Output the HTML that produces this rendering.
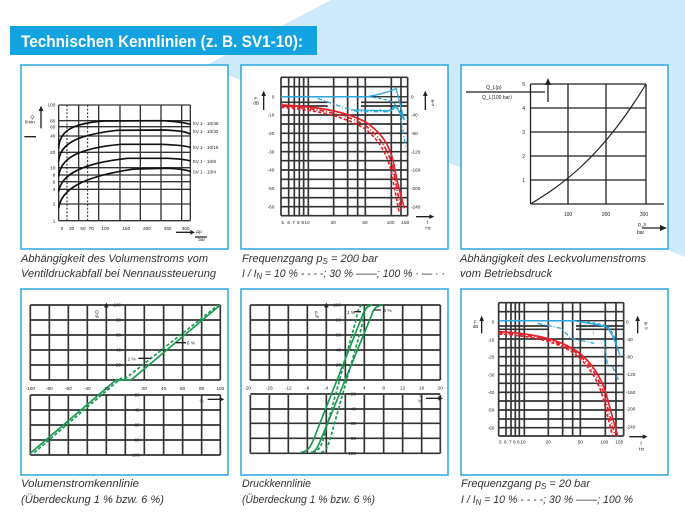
<!DOCTYPE html>
<html><head><meta charset="utf-8"><style>
html,body{margin:0;padding:0;background:#fff}
svg{display:block}
text{font-family:"Liberation Sans",sans-serif}
.cap{font-size:11px;font-style:italic;fill:#333}
</style></head><body>
<svg width="685" height="517" viewBox="0 0 685 517" xmlns="http://www.w3.org/2000/svg">
<rect width="685" height="517" fill="#fff"/>
<polygon points="331,0 685,0 685,257 205,66" fill="#cfeafa"/>
<rect x="10" y="26" width="307" height="29" fill="#12a3e0"/>
<text x="21" y="47" font-size="17" font-weight="bold" fill="#fff" textLength="282" lengthAdjust="spacingAndGlyphs">Technischen Kennlinien (z. B. SV1-10):</text>

<g fill="#fff" stroke="#29a8e0" stroke-width="1.5">
<rect x="21" y="65" width="207" height="184"/><rect x="241" y="65" width="207" height="184"/><rect x="461" y="65" width="207" height="184"/>
<rect x="21" y="289" width="207" height="186"/><rect x="241" y="289" width="207" height="186"/><rect x="461" y="289" width="207" height="186"/>
</g>

<!-- Panel 1 -->
<g transform="translate(21,95) scale(0.3333)">
<g stroke="#333" stroke-width="4">
<path d="M113,30V377M173,30V377M233,30V377M297,30V377M358,30V377M420,30V377M482,30V377M508,30V377"/>
<path d="M113,30H508M113,77H508M113,95H508M113,123H508M113,172H508M113,218H508M113,240H508M113,260H508M113,283H508M113,327H508M113,377H508"/>
</g>
<path d="M138,30V377M200,30V377" stroke="#222" stroke-width="3" stroke-dasharray="6,5"/>
<g stroke="#111" stroke-width="5" fill="none">
<path d="M113,160 C115,110 150,85 250,78 L420,77 C460,79 490,82 508,88"/>
<path d="M113,200 C116,150 160,120 290,106 L420,105 C470,106 500,110 508,118"/>
<path d="M113,245 C118,190 170,160 300,148 L420,148 C470,150 500,153 508,158"/>
<path d="M113,290 C120,240 180,205 320,190 L440,190 C480,192 500,195 508,198"/>
<path d="M113,340 C120,285 180,245 340,222 L440,220 C480,222 500,225 508,230"/>
</g>
<g font-size="14" fill="#222" text-anchor="end">
<text x="103" y="35">100</text><text x="103" y="82">80</text><text x="103" y="100">60</text><text x="103" y="128">40</text><text x="103" y="177">20</text><text x="103" y="223">10</text><text x="103" y="245">8</text><text x="103" y="265">6</text><text x="103" y="288">4</text><text x="103" y="332">2</text><text x="103" y="382">1</text>
</g>
<g font-size="14" fill="#222" text-anchor="middle">
<text x="123" y="405">0</text><text x="152" y="405">20</text><text x="186" y="405">50</text><text x="211" y="405">70</text><text x="253" y="405">100</text><text x="316" y="405">150</text><text x="378" y="405">200</text><text x="440" y="405">250</text><text x="494" y="405">300</text>
</g>
<g font-size="14" fill="#222">
<text x="515" y="90">SV 1 - 10/48</text><text x="515" y="114">SV 1 - 10/32</text><text x="515" y="162">SV 1 - 10/16</text><text x="515" y="204">SV 1 - 10/8</text><text x="515" y="236">SV 1 - 10/4</text>
<text x="28" y="70">Q</text><text x="12" y="86">l/min</text><text x="525" y="414">Δp</text><text x="532" y="438">bar</text>
</g>
<path d="M60,100V40" stroke="#222" stroke-width="4"/><path d="M53,48L60,32L67,48Z" fill="#222"/>
<path d="M10,125H45M522,426H558" stroke="#222" stroke-width="4"/>
<path d="M465,412H515" stroke="#222" stroke-width="4"/><path d="M508,405L522,412L508,419Z" fill="#222"/>
</g>

<!-- Panel 2 -->
<g transform="translate(241,70) scale(0.3333)">
<g stroke="#333" stroke-width="5">
<path d="M120,22V437M143,22V437M160,22V437M175,22V437M188,22V437M202,22V437M278,22V437M320,22V437M350,22V437M373,22V437M451,22V437M480,22V437M500,22V437"/>
<path d="M120,22H500M120,50H500M120,135H500M120,162H500M120,190H500M120,218H500M120,245H500M120,272H500M120,300H500M120,328H500M120,355H500M120,383H500M120,410H500M120,437H500"/>
<path d="M120,97H260M360,97H500M120,108H260M360,108H500"/>
</g>
<path d="M120,80H500" stroke="#333" stroke-width="4"/>
<g fill="none" stroke-width="4" stroke="#29a8e0">
<path d="M120,80 L380,80 C420,72 450,65 465,55 L490,150"/>
<path d="M380,80 C420,85 445,90 460,100 L480,130" stroke-dasharray="10,6"/>
<path d="M230,85 L300,110 L350,125 L440,125 L460,110 L475,120 L495,235" stroke-dasharray="14,6,3,6"/>
<path d="M330,120 L450,122 L465,110 L490,150"/>
</g>
<g fill="none" stroke-width="5" stroke="#e8202a">
<path d="M120,105 C250,110 330,130 380,160 C420,190 445,220 458,280 L470,340 L490,415"/>
<path d="M120,112 C240,120 320,145 370,175 C410,205 435,245 450,300 L475,430" stroke-dasharray="10,6"/>
<path d="M120,108 C240,115 330,138 375,168 C415,200 440,235 455,290 L480,420" stroke-dasharray="14,6,3,6"/>
</g>
<g font-size="14" fill="#222" text-anchor="end">
<text x="100" y="85">0</text><text x="100" y="140">-10</text><text x="100" y="195">-20</text><text x="100" y="250">-30</text><text x="100" y="305">-40</text><text x="100" y="360">-50</text><text x="100" y="415">-60</text>
</g>
<g font-size="14" fill="#222">
<text x="510" y="85">0</text><text x="510" y="140">-40</text><text x="510" y="195">-80</text><text x="510" y="250">-120</text><text x="510" y="305">-160</text><text x="510" y="360">-200</text><text x="510" y="415">-240</text>
<text x="415" y="125" fill="#29a8e0">f</text><text x="40" y="90">F</text><text x="37" y="104">dB</text><text x="570" y="96">φ</text><text x="572" y="108">o</text><text x="557" y="462">f</text><text x="553" y="478">Hz</text>
</g>
<g font-size="14" fill="#222" text-anchor="middle">
<text x="125" y="462">5</text><text x="143" y="462">6</text><text x="158" y="462">7</text><text x="172" y="462">8</text><text x="185" y="462">9</text><text x="198" y="462">10</text><text x="277" y="462">20</text><text x="372" y="462">50</text><text x="449" y="462">100</text><text x="493" y="462">150</text>
</g>
<path d="M68,120V70M553,120V70M525,440H570" stroke="#222" stroke-width="4"/>
<path d="M61,78L68,62L75,78ZM546,78L553,62L560,78ZM565,433L580,440L565,447Z" fill="#222"/>
</g>

<!-- Panel 3 -->
<g stroke="#222" stroke-width="1.3" fill="none">
<path d="M530.5,84V204M568,84V204M606,84V204M646,84V204"/>
<path d="M530.5,84H646M530.5,108H646M530.5,132H646M530.5,156H646M530.5,180H646M530.5,204H664"/>
<path d="M530.5,204 C560,186 600,160 646,84" stroke-width="1.2"/>
<path d="M466,92H545M548,102V82M642,228H660"/>
</g>
<path d="M545,85L548,78L551,85ZM660,225L667,228L660,231Z" fill="#222"/>
<g font-size="5" fill="#222">
<text x="525" y="86" text-anchor="end">5</text><text x="525" y="110" text-anchor="end">4</text><text x="525" y="134" text-anchor="end">3</text><text x="525" y="158" text-anchor="end">2</text><text x="525" y="182" text-anchor="end">1</text>
<text x="568" y="216" text-anchor="middle">100</text><text x="606" y="216" text-anchor="middle">200</text><text x="644" y="216" text-anchor="middle">300</text>
<text x="486" y="89">Q_L(p)</text><text x="482" y="99">Q_L(100 bar)</text><text x="638" y="226">p_s</text><text x="637" y="234">bar</text>
</g>

<!-- Panel 4 -->
<g transform="translate(21,290) scale(0.3333)">
<g stroke="#333" stroke-width="5">
<path d="M28,45V270M85,45V270M142,45V270M199,45V270M256,45V270M313,45V270M370,45V270M428,45V270M485,45V270M542,45V270M598,45V270"/>
<path d="M28,315V495M85,315V495M142,315V495M199,315V495M256,315V495M313,315V495M370,315V495M428,315V495M485,315V495M542,315V495M598,315V495"/>
<path d="M28,45H598M28,90H598M28,135H598M28,180H598M28,225H598M28,270H598M28,315H598M28,360H598M28,405H598M28,450H598M28,495H598"/>
</g>
<g fill="none" stroke="#1a9a50" stroke-width="5">
<path d="M28,490 L285,270 L330,270 L598,45"/>
<path d="M40,488 L300,265 L318,262 L592,45" stroke-dasharray="10,6"/>
</g>
<path d="M352,205H390M465,158H495" stroke="#222" stroke-width="4"/>
<g font-size="14" fill="#222">
<text x="320" y="212">1 %</text><text x="498" y="163">6 %</text><text x="222" y="70">Q</text><text x="222" y="84">%</text><text x="540" y="322">I</text><text x="536" y="338">%</text>
</g>
<g font-size="14" fill="#222" text-anchor="end">
<text x="300" y="50">100</text><text x="300" y="95">80</text><text x="300" y="140">60</text><text x="300" y="185">40</text><text x="300" y="230">20</text>
<text x="356" y="320">-20</text><text x="356" y="365">-40</text><text x="356" y="410">-60</text><text x="356" y="455">-80</text><text x="356" y="500">-100</text>
</g>
<g font-size="14" fill="#222" text-anchor="middle">
<text x="28" y="300">-100</text><text x="85" y="300">-80</text><text x="142" y="300">-60</text><text x="199" y="300">-40</text><text x="256" y="300">-20</text><text x="370" y="300">20</text><text x="428" y="300">40</text><text x="485" y="300">60</text><text x="542" y="300">80</text><text x="598" y="300">100</text>
</g>
<path d="M560,328H600" stroke="#222" stroke-width="4"/><path d="M596,321L610,328L596,335ZM249,52L256,38L263,52Z" fill="#222"/>
</g>

<!-- Panel 5 -->
<g transform="translate(241,290) scale(0.3333)">
<g stroke="#333" stroke-width="5">
<path d="M28,45V270M85,45V270M142,45V270M199,45V270M256,45V270M313,45V270M370,45V270M428,45V270M485,45V270M542,45V270M598,45V270"/>
<path d="M28,315V490M85,315V490M142,315V490M199,315V490M256,315V490M313,315V490M370,315V490M428,315V490M485,315V490M542,315V490M598,315V490"/>
<path d="M28,45H598M28,90H598M28,135H598M28,180H598M28,225H598M28,270H598M28,312H598M28,357H598M28,400H598M28,445H598M28,490H598"/>
</g>
<g fill="none" stroke="#1a9a50" stroke-width="5">
<path d="M180,487 C200,485 205,475 215,455 L365,75 C372,55 380,48 395,45"/>
<path d="M210,487 C225,485 230,470 237,455 L392,75 C397,55 407,48 425,45"/>
<path d="M215,487 C230,485 238,472 245,455 L345,90 C350,60 355,48 365,45" stroke-dasharray="10,6"/>
<path d="M240,487 C255,485 260,470 265,455 L365,100 C370,60 375,48 385,45" stroke-dasharray="10,6"/>
</g>
<path d="M340,65H360M400,60H420" stroke="#222" stroke-width="4"/>
<g font-size="14" fill="#222">
<text x="318" y="72">1 %</text><text x="428" y="66">6 %</text><text x="222" y="70">p</text><text x="222" y="84">%</text><text x="535" y="322">I</text><text x="531" y="338">%</text>
</g>
<g font-size="14" fill="#222" text-anchor="end">
<text x="300" y="50">100</text><text x="300" y="95">80</text><text x="300" y="140">60</text><text x="300" y="185">40</text><text x="300" y="230">20</text>
<text x="345" y="317">-20</text><text x="345" y="362">-40</text><text x="345" y="405">-60</text><text x="345" y="450">-80</text><text x="345" y="495">-100</text>
</g>
<g font-size="14" fill="#222" text-anchor="middle">
<text x="20" y="298">-20</text><text x="85" y="298">-16</text><text x="142" y="298">-12</text><text x="199" y="298">-8</text><text x="256" y="298">-4</text><text x="370" y="298">4</text><text x="428" y="298">8</text><text x="485" y="298">12</text><text x="542" y="298">16</text><text x="598" y="298">20</text>
</g>
<path d="M555,325H595" stroke="#222" stroke-width="4"/><path d="M592,318L606,325L592,332ZM249,52L256,38L263,52Z" fill="#222"/>
</g>

<!-- Panel 6 -->
<g transform="translate(461,290) scale(0.3333)">
<g stroke="#333" stroke-width="5">
<path d="M113,38V438M135,38V438M150,38V438M163,38V438M175,38V438M190,38V438M262,38V438M305,38V438M335,38V438M358,38V438M433,38V438M465,38V438M488,38V438"/>
<path d="M113,38H488M113,65H488M113,147H488M113,173H488M113,200H488M113,227H488M113,253H488M113,280H488M113,307H488M113,333H488M113,360H488M113,387H488M113,413H488M113,438H488"/>
<path d="M113,108H260M345,108H488M113,118H260M345,118H488"/>
</g>
<path d="M113,92H488" stroke="#333" stroke-width="4"/>
<g fill="none" stroke-width="4" stroke="#29a8e0">
<path d="M113,92 L340,92 C380,100 420,105 435,110 C450,120 465,160 478,200"/>
<path d="M330,92 C380,96 420,100 440,110 C455,125 465,150 470,170" stroke-dasharray="10,6"/>
<path d="M230,100 L300,115 L330,145 L400,160 M430,150 L440,230 M455,230 L472,270" stroke-dasharray="14,6,3,6"/>
</g>
<g fill="none" stroke-width="5" stroke="#e8202a">
<path d="M113,125 C220,130 300,150 350,185 C390,215 420,260 435,310 L470,438"/>
<path d="M113,132 C220,138 300,158 345,195 C385,228 410,270 425,320 L455,438" stroke-dasharray="10,6"/>
<path d="M113,128 C220,134 300,154 348,190 C388,222 415,265 430,315 L462,438" stroke-dasharray="14,6,3,6"/>
</g>
<g font-size="14" fill="#222" text-anchor="end">
<text x="100" y="100">0</text><text x="100" y="155">-10</text><text x="100" y="205">-20</text><text x="100" y="260">-30</text><text x="100" y="312">-40</text><text x="100" y="365">-50</text><text x="100" y="418">-60</text>
</g>
<g font-size="14" fill="#222">
<text x="495" y="100">0</text><text x="495" y="153">-40</text><text x="495" y="205">-80</text><text x="495" y="258">-120</text><text x="495" y="312">-160</text><text x="495" y="362">-200</text><text x="495" y="415">-240</text>
<text x="395" y="135" fill="#29a8e0">f</text><text x="38" y="100">F</text><text x="35" y="114">dB</text><text x="550" y="104">φ</text><text x="552" y="118">o</text><text x="538" y="465">f</text><text x="533" y="482">Hz</text>
</g>
<g font-size="14" fill="#222" text-anchor="middle">
<text x="118" y="460">5</text><text x="133" y="460">6</text><text x="148" y="460">7</text><text x="160" y="460">8</text><text x="172" y="460">9</text><text x="186" y="460">10</text><text x="262" y="460">20</text><text x="358" y="460">50</text><text x="430" y="460">100</text><text x="475" y="460">150</text>
</g>
<path d="M62,130V85M530,130V85M505,440H548" stroke="#222" stroke-width="4"/>
<path d="M55,93L62,77L69,93ZM523,93L530,77L537,93ZM545,433L560,440L545,447Z" fill="#222"/>
</g>

<!-- captions -->
<text class="cap" x="21" y="262" textLength="187" lengthAdjust="spacingAndGlyphs">Abhängigkeit des Volumenstroms vom</text>
<text class="cap" x="21" y="277" textLength="195" lengthAdjust="spacingAndGlyphs">Ventildruckabfall bei Nennaussteuerung</text>
<text class="cap" x="242" y="262" textLength="136" lengthAdjust="spacingAndGlyphs">Frequenzgang  p<tspan font-size="8" dy="2">S</tspan><tspan dy="-2"> = 200 bar</tspan></text>
<text class="cap" x="242" y="277" textLength="203" lengthAdjust="spacingAndGlyphs">I / I<tspan font-size="8" dy="2">N</tspan><tspan dy="-2"> = 10 % - - - -; 30 % ——; 100 % · — · ·</tspan></text>
<text class="cap" x="460" y="262" textLength="186" lengthAdjust="spacingAndGlyphs">Abhängigkeit des Leckvolumenstroms</text>
<text class="cap" x="460" y="277" textLength="92" lengthAdjust="spacingAndGlyphs">vom Betriebsdruck</text>
<text class="cap" x="21" y="487" textLength="118" lengthAdjust="spacingAndGlyphs">Volumenstromkennlinie</text>
<text class="cap" x="21" y="503" textLength="143" lengthAdjust="spacingAndGlyphs">(Überdeckung 1 % bzw. 6 %)</text>
<text class="cap" x="242" y="487" textLength="69" lengthAdjust="spacingAndGlyphs">Druckkennlinie</text>
<text class="cap" x="242" y="503" textLength="133" lengthAdjust="spacingAndGlyphs">(Überdeckung 1 % bzw. 6 %)</text>
<text class="cap" x="461" y="487" textLength="129" lengthAdjust="spacingAndGlyphs">Frequenzgang  p<tspan font-size="8" dy="2">S</tspan><tspan dy="-2"> = 20 bar</tspan></text>
<text class="cap" x="461" y="503" textLength="172" lengthAdjust="spacingAndGlyphs">I / I<tspan font-size="8" dy="2">N</tspan><tspan dy="-2"> = 10 % - - - -; 30 % ——; 100 %</tspan></text>
</svg>
</body></html>
